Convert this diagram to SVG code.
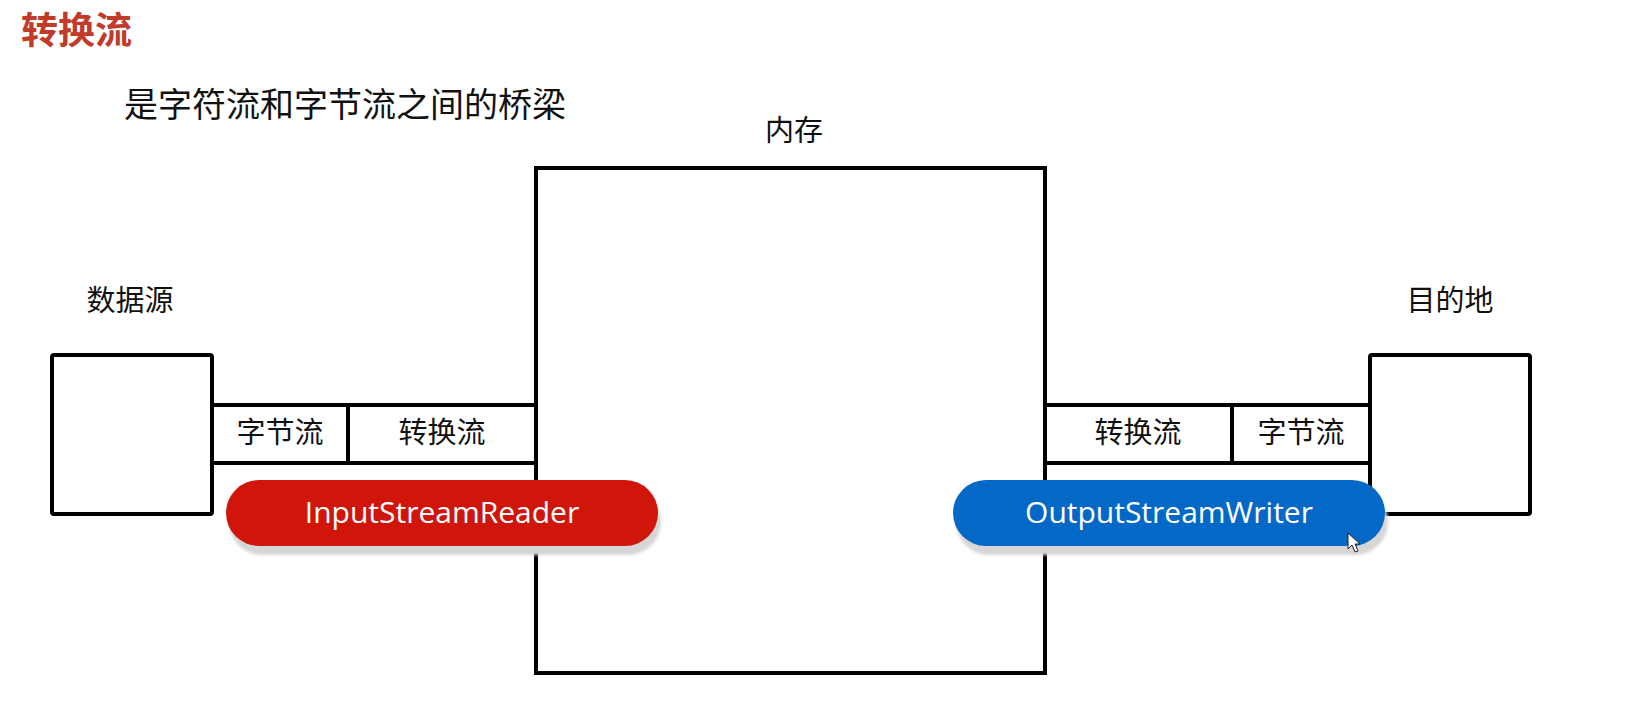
<svg xmlns="http://www.w3.org/2000/svg" width="1631" height="710" viewBox="0 0 1631 710">
<style>
.cn{font-family:"Noto Sans CJK SC","Noto Sans",sans-serif;fill:#111}
.lbl{font-size:29px;text-anchor:middle}
.box{fill:#fff;stroke:#000;stroke-width:4}
.pilltxt{font-family:"Open Sans","Noto Sans",sans-serif;font-size:30px;fill:#fff;text-anchor:middle}
.shadow{fill:#d6d6d6}
</style>
<defs>
<filter id="blur" x="-10%" y="-30%" width="120%" height="160%"><feGaussianBlur stdDeviation="1.5"/></filter>
</defs>
<rect width="1631" height="710" fill="#fff"/>
<g id="title"><text class="cn" x="21" y="44" font-size="37" font-weight="bold" style="fill:#c23b2a">转换流</text></g>
<g id="subtitle"><text class="cn" x="124" y="117" font-size="34">是字符流和字节流之间的桥梁</text></g>
<g id="memory">
<rect class="box" x="536" y="168" width="509" height="505"/>
<text class="cn lbl" x="794" y="141">内存</text>
</g>
<g id="source">
<rect class="box" x="52" y="355" width="160" height="159" rx="2"/>
<text class="cn lbl" x="130" y="311">数据源</text>
</g>
<g id="dest">
<rect class="box" x="1370" y="355" width="160" height="159" rx="2"/>
<text class="cn lbl" x="1450" y="311">目的地</text>
</g>
<g id="connectors">
<g id="in-byte"><rect class="box" x="212" y="405" width="136" height="58"/><text class="cn lbl" x="280" y="443">字节流</text></g>
<g id="in-conv"><rect class="box" x="348" y="405" width="188" height="58"/><text class="cn lbl" x="442" y="443">转换流</text></g>
<g id="out-conv"><rect class="box" x="1045" y="405" width="187" height="58"/><text class="cn lbl" x="1138" y="443">转换流</text></g>
<g id="out-byte"><rect class="box" x="1232" y="405" width="138" height="58"/><text class="cn lbl" x="1301" y="443">字节流</text></g>
</g>
<g id="reader">
<rect class="shadow" x="229" y="489" width="432" height="66" rx="33" filter="url(#blur)"/>
<rect x="226" y="480" width="432" height="66" rx="33" fill="#d0150a"/>
<text class="pilltxt" x="442" y="523">InputStreamReader</text>
</g>
<g id="writer">
<rect class="shadow" x="956" y="489" width="432" height="66" rx="33" filter="url(#blur)"/>
<rect x="953" y="480" width="432" height="66" rx="33" fill="#0469c6"/>
<text class="pilltxt" x="1169" y="523">OutputStreamWriter</text>
</g>
<g id="cursor">
<path d="M1348 533 L1348 549 L1352 545 L1355 552 L1358 551 L1355 544 L1360 544 Z" fill="#fff" stroke="#222" stroke-width="1" stroke-linejoin="round"/>
</g>
</svg>
